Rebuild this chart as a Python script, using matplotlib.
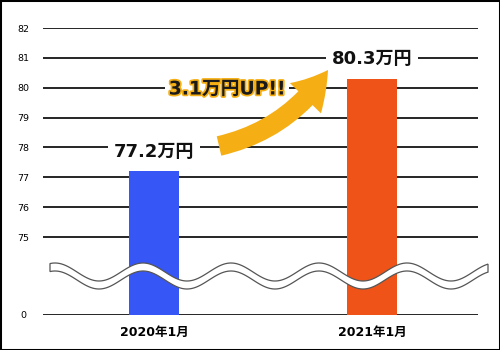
import numpy as np
import matplotlib
matplotlib.use("Agg")
import matplotlib.pyplot as plt
from matplotlib.patches import Rectangle, Polygon, FancyArrowPatch
import matplotlib.patheffects as pe

plt.rcParams['font.family'] = ['DejaVu Sans', 'Noto Sans CJK JP']

categories = ['2020年1月', '2021年1月']
values = [77.2, 80.3]
value_labels = ['77.2万円', '80.3万円']
bar_colors = ['#3656F5', '#F05318']
yticks = [0, 75, 76, 77, 78, 79, 80, 81, 82]
diff_label = '3.1万円UP!!'

W, H = 500, 350
fig = plt.figure(figsize=(W / 100, H / 100), dpi=100)

# axes in pixels: left 43, right 478, bottom y=315, top y=28
ax = fig.add_axes([43 / W, (H - 315) / H, (478 - 43) / W, (315 - 28) / H])

BRK = 2.61  # compressed height of 0..75 segment in units


def fwd(v):
    v = np.asarray(v, dtype=float)
    return np.where(v >= 75, v - 75 + BRK, v / 75 * BRK)


def inv(y):
    y = np.asarray(y, dtype=float)
    return np.where(y >= BRK, y + 75 - BRK, y * 75 / BRK)


ax.set_yscale('function', functions=(fwd, inv))
ax.set_ylim(0, 82)
ax.set_xlim(-0.509, 1.486)

for t in yticks:
    ax.axhline(t, color='black', lw=1.2, zorder=1)

x = np.arange(len(categories))
ax.bar(x, values, width=0.229, color=bar_colors, zorder=2)

ax.set_yticks(yticks)
ax.set_yticklabels([str(t) for t in yticks], fontsize=6.8, ha='center')
ax.tick_params(axis='y', length=0, pad=14)
ax.set_xticks(x)
ax.set_xticklabels(categories, fontsize=9, fontweight='bold')
ax.tick_params(axis='x', length=0, pad=8)
for s in ax.spines.values():
    s.set_visible(False)
ax.set_facecolor('none')

for i, (v, lab) in enumerate(zip(values, value_labels)):
    ax.annotate(lab, xy=(i, v), xytext=(0, 14), textcoords='offset points',
                ha='center', va='center', fontsize=13, fontweight='bold',
                color='#111111',
                bbox=dict(boxstyle='square,pad=0.3', fc='white', ec='none'),
                zorder=5)

# wave break mark (figure pixel coords)
xs = np.linspace(50, 488, 300)
top = 272 - 9 * np.cos(2 * np.pi * (xs - 143) / 88)
bot = top + 8
pts = np.concatenate([np.column_stack([xs, H - top]),
                      np.column_stack([xs[::-1], H - bot[::-1]])])
wave = Polygon(pts / np.array([W, H]), closed=True, transform=fig.transFigure,
               fc='white', ec='#555555', lw=0.9, zorder=10)
fig.patches.append(wave)

# curved arrow
fig.text(227 / W, (H - 89) / H, diff_label, ha='center', va='center',
         fontsize=13.5, fontweight='bold', color='#1a1a1a',
         path_effects=[pe.withStroke(linewidth=2.5, foreground='#F5AF15')],
         bbox=dict(boxstyle='square,pad=0.2', fc='white', ec='none'), zorder=5)

arrow = FancyArrowPatch(posA=(219 / W, (H - 146) / H), posB=(328 / W, (H - 70) / H),
                        transform=fig.transFigure,
                        connectionstyle='arc3,rad=0.2',
                        arrowstyle='simple,head_width=2.4,head_length=2.0,tail_width=1.1',
                        mutation_scale=13, fc='#F5AF15', ec='none', zorder=8,
                        shrinkA=0, shrinkB=0)
fig.patches.append(arrow)

fig.patches.append(Rectangle((0, 0), 1, 1, transform=fig.transFigure,
                             fill=False, ec='black', lw=2.2, zorder=20))

fig.savefig('out.png', dpi=100)
